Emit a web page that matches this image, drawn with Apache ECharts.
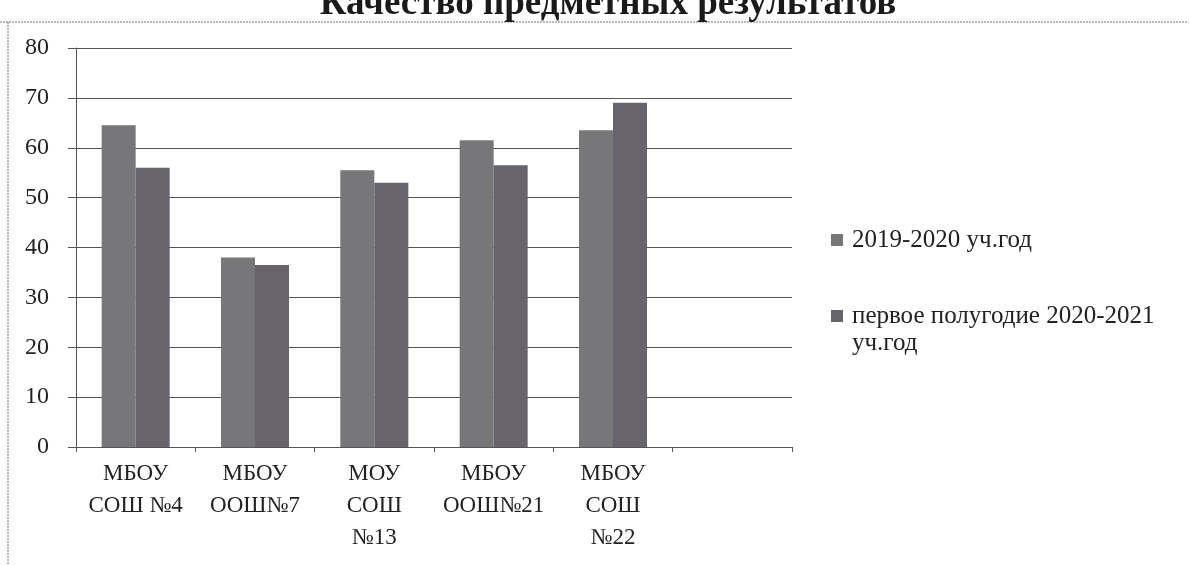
<!DOCTYPE html>
<html><head><meta charset="utf-8">
<script src="https://cdn.jsdelivr.net/npm/echarts@6/dist/echarts.min.js"></script>
<style>html,body{margin:0;padding:0;background:#fff}#c{width:1189px;height:565px}</style>
</head><body><div id="c"></div>
<script>
var titleText = 'Качество предметных результатов';
var categories = ['МБОУ\nСОШ №4', 'МБОУ\nООШ№7', 'МОУ\nСОШ\n№13', 'МБОУ\nООШ№21', 'МБОУ\nСОШ\n№22', ''];
var seriesNames = ['2019-2020 уч.год', 'первое полугодие 2020-2021 уч.год'];
var legendLines = ['первое полугодие 2020-2021', 'уч.год'];
var values2019 = [64.5, 38, 55.5, 61.5, 63.5, null];
var valuesHalf2020 = [56, 36.5, 53, 56.5, 69, null];
var yTicks = {min: 0, max: 80, interval: 10};

var font = '"Liberation Serif", "Times New Roman", serif';
var chart = echarts.init(document.getElementById('c'), null, {renderer: 'canvas'});
chart.setOption({
  animation: false,
  backgroundColor: '#fff',
  title: {
    text: titleText, left: 603, textAlign: 'center', top: -19,
    textStyle: {fontFamily: font, fontWeight: 'bold', fontSize: 37, color: '#1a1a1a'}
  },
  graphic: [
    {type: 'line', shape: {x1: 0, y1: 22, x2: 1189, y2: 22}, style: {stroke: '#777', lineWidth: 1, lineDash: [2, 1]}},
    {type: 'line', shape: {x1: 8, y1: 22, x2: 8, y2: 565}, style: {stroke: '#777', lineWidth: 1, lineDash: [2, 1]}},
    {type: 'text', left: 852, top: 331, style: {text: legendLines[1], fontFamily: font, fontSize: 25, fill: '#222'}}
  ],
  legend: {
    orient: 'vertical', left: 826, top: 221, itemGap: 48,
    itemWidth: 12, itemHeight: 12, icon: 'rect',
    formatter: function (n) { return n === seriesNames[1] ? legendLines[0] : n; },
    textStyle: {fontFamily: font, fontSize: 25, color: '#222', lineHeight: 28, padding: [0, 0, 0, 4]}
  },
  grid: {left: 76, right: 397, top: 48, bottom: 118, containLabel: false},
  xAxis: {
    type: 'category', data: categories,
    axisLine: {lineStyle: {color: '#555', width: 1}},
    axisTick: {show: true, alignWithLabel: false, length: 5, lineStyle: {color: '#555'}},
    axisLabel: {fontFamily: font, fontSize: 23, color: '#222', lineHeight: 32, margin: 11, interval: 0}
  },
  yAxis: {
    type: 'value', min: yTicks.min, max: yTicks.max, interval: yTicks.interval,
    axisLine: {show: true, lineStyle: {color: '#555'}},
    axisTick: {show: true, length: 8, lineStyle: {color: '#555'}},
    splitLine: {lineStyle: {color: '#555', width: 1}},
    axisLabel: {fontFamily: font, fontSize: 24, color: '#222', margin: 27}
  },
  series: [
    {name: seriesNames[0], type: 'bar', data: values2019, barGap: '0%', barCategoryGap: '43%',
     itemStyle: {color: '#777679'}},
    {name: seriesNames[1], type: 'bar', data: valuesHalf2020,
     itemStyle: {color: '#68646e'}}
  ]
});
</script></body></html>
